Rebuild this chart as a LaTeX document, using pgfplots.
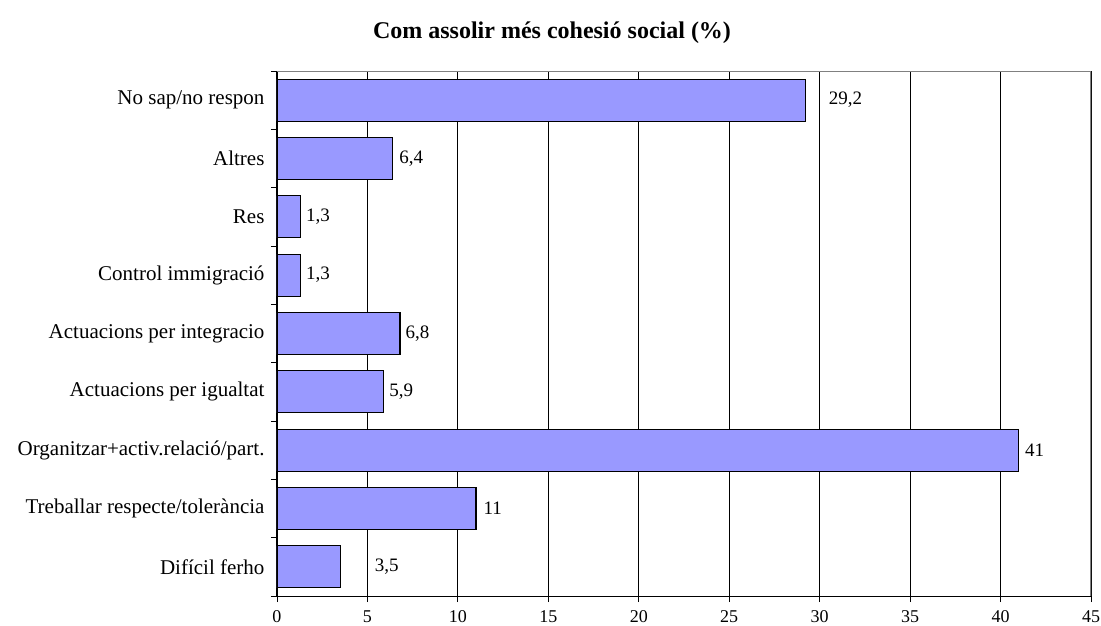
\documentclass[border=0pt]{standalone}
\usepackage{pgfplots}
\pgfplotsset{compat=1.18}
\usepackage{fontspec}
\setmainfont{Liberation Serif}
\definecolor{barblue}{HTML}{9999FF}
\pgfplotstableread{
c v lab sh
0 3.5 3,5 34
1 11 11 7
2 41 41 6
3 5.9 5,9 5
4 6.8 6,8 5
5 1.3 1,3 5
6 1.3 1,3 5
7 6.4 6,4 6
8 29.2 29,2 23
}\datatable
\begin{document}
\begin{tikzpicture}
\useasboundingbox (-277pt,-29pt) rectangle (824pt,596pt);
\begin{axis}[
  at={(0,0)}, anchor=south west,
  scale only axis, width=814pt, height=525pt,
  xmin=0, xmax=45, ymin=-0.5, ymax=8.5,
  xtick={0,5,...,45},
  ytick={-0.5,0.5,...,8.5},
  yticklabels={},
  extra y ticks={0,1,2,3,4,5,6,7,8},
  extra y tick labels={Difícil ferho, Treballar respecte/tolerància, Organitzar+activ.relació/part., Actuacions per igualtat, Actuacions per integracio, Control immigració, Res, Altres, No sap/no respon},
  extra y tick style={major tick length=0pt, yticklabel style={font=\fontsize{21}{24}\selectfont, xshift=-9pt}},
  tick align=outside, major tick length=6pt,
  tick pos=left,
  tick style={black, line width=0.8pt},
  xmajorgrids, grid style={black, line width=0.8pt},
  axis x line*=bottom, axis y line*=left,
  axis line style={black, line width=1pt},
  /pgf/number format/assume math mode=true,
  xticklabel style={font=\fontsize{18}{21}\selectfont, yshift=-5pt},
]
\addplot[xbar, bar width=42pt, fill=barblue, draw=black, line width=1.2pt,
  nodes near coords, point meta=explicit symbolic,
  visualization depends on={\thisrow{sh} \as \sh},
  every node near coord/.append style={anchor=west, inner sep=0pt, xshift=\sh pt, font=\fontsize{19}{22}\selectfont, black}]
  table[x=v, y=c, meta=lab] {\datatable};
\draw[gray, line width=1.2pt] (rel axis cs:0,1) -- (rel axis cs:1,1) -- (rel axis cs:1,0);
\end{axis}
\node[font=\bfseries\fontsize{24}{28}\selectfont] at (275pt,563pt) {Com assolir més cohesió social (\%)};
\end{tikzpicture}
\end{document}
